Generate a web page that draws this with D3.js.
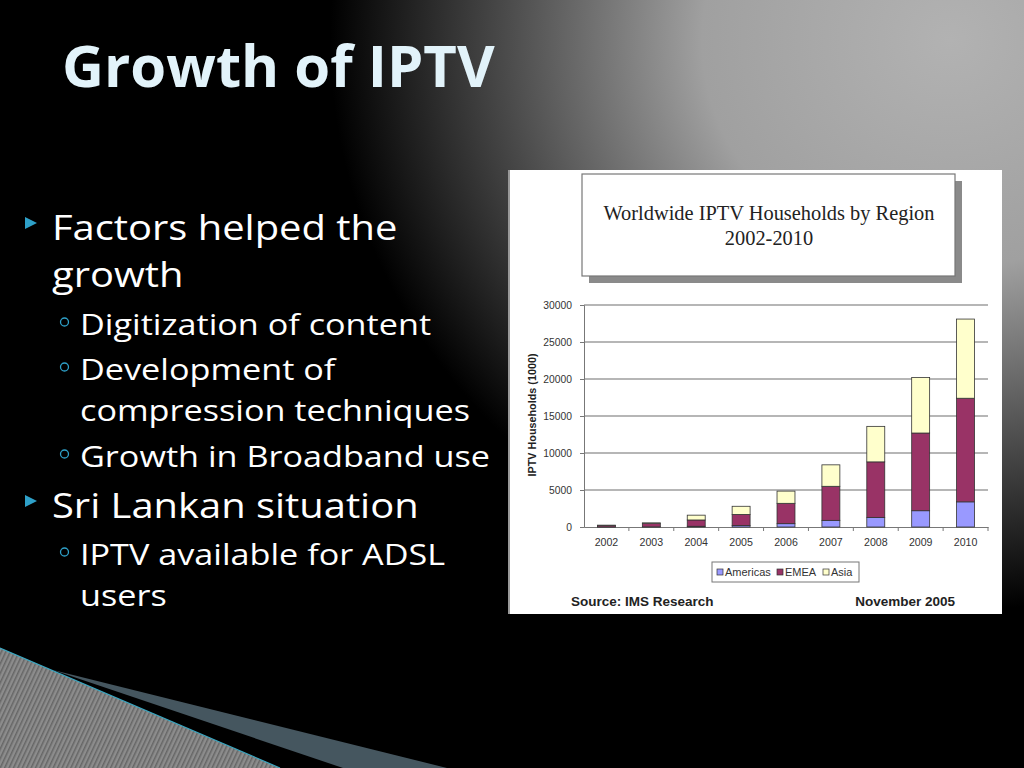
<!DOCTYPE html>
<html>
<head>
<meta charset="utf-8">
<script src="https://cdn.jsdelivr.net/npm/d3@7"></script>
<style>
  html, body { margin: 0; padding: 0; background: #000; }
  svg { display: block; }
</style>
</head>
<body>
<svg id="slide" width="1024" height="768"></svg>
<script>
// Chart data (thousands of households)
const years = ["2002", "2003", "2004", "2005", "2006", "2007", "2008", "2009", "2010"];
const americas = [10, 20, 100, 200, 450, 900, 1300, 2200, 3400];
const emea = [200, 480, 850, 1500, 2750, 4600, 7500, 10500, 14000];
const asia = [40, 60, 650, 1100, 1650, 2900, 4800, 7500, 10700];
const regions = ["Americas", "EMEA", "Asia"];
const regionColors = ["#9999ff", "#993366", "#ffffcc"];
const yTicks = [0, 5000, 10000, 15000, 20000, 25000, 30000];

// Slide text
const slideTitle = "Growth of IPTV";
const bullets = [
  { level: 1, lines: ["Factors helped the", "growth"], y: [240, 287] },
  { level: 2, lines: ["Digitization of content"], y: [335] },
  { level: 2, lines: ["Development of", "compression techniques"], y: [380, 421] },
  { level: 2, lines: ["Growth in Broadband use"], y: [467] },
  { level: 1, lines: ["Sri Lankan situation"], y: [518] },
  { level: 2, lines: ["IPTV available for ADSL", "users"], y: [565, 606] }
];

const svg = d3.select("#slide");
const defs = svg.append("defs");

// Background: black with grey glow at the top right
const bg = defs.append("radialGradient")
  .attr("id", "bgGlow")
  .attr("gradientUnits", "userSpaceOnUse")
  .attr("cx", 950).attr("cy", 40).attr("r", 620)
  .attr("gradientTransform", "translate(950,40) scale(1,0.92) translate(-950,-40)");
bg.append("stop").attr("offset", "0").attr("stop-color", "#b2b2b2");
bg.append("stop").attr("offset", "0.4").attr("stop-color", "#a0a0a0");
bg.append("stop").attr("offset", "0.72").attr("stop-color", "#4a4a4a");
bg.append("stop").attr("offset", "1").attr("stop-color", "#000");

svg.append("rect").attr("width", 1024).attr("height", 768).attr("fill", "#000");
svg.append("rect").attr("width", 1024).attr("height", 768).attr("fill", "url(#bgGlow)");

// Striped corner decoration
const stripes = defs.append("pattern")
  .attr("id", "stripes")
  .attr("patternUnits", "userSpaceOnUse")
  .attr("width", 4).attr("height", 4)
  .attr("patternTransform", "rotate(25)");
stripes.append("rect").attr("width", 4).attr("height", 4).attr("fill", "#8c8c8c");
stripes.append("rect").attr("width", 1.5).attr("height", 4).attr("fill", "#666");

svg.append("path")
  .attr("d", "M0,648 L280,768 L0,768 Z")
  .attr("fill", "url(#stripes)");
svg.append("line")
  .attr("x1", 0).attr("y1", 648).attr("x2", 280).attr("y2", 768)
  .attr("stroke", "#3aa6c0").attr("stroke-width", 1.2);
svg.append("path")
  .attr("d", "M53,670 L447,768 L343,768 Z")
  .attr("fill", "#45565f");

// Title
svg.append("text")
  .attr("x", 62).attr("y", 87)
  .attr("font-family", "'Open Sans', 'Noto Sans', sans-serif")
  .attr("font-weight", "bold")
  .attr("font-size", 58)
  .attr("fill", "#e2f3fa")
  .text(slideTitle);

// Bullets (the slide font is wider than Open Sans, so stretch horizontally)
const bulletColor = "#2ea0c8";
bullets.forEach((b) => {
  const textX = b.level === 1 ? 52 : 80;
  const size = b.level === 1 ? 35 : 30;
  b.lines.forEach((line, i) => {
    svg.append("text")
      .attr("transform", `translate(${textX},${b.y[i]}) scale(1.14,1)`)
      .attr("font-family", "'Open Sans', 'Noto Sans', sans-serif")
      .attr("font-size", size)
      .attr("fill", "#fff")
      .text(line);
  });
  if (b.level === 1) {
    const cy = b.y[0] - 17;
    svg.append("path")
      .attr("d", `M25,${cy - 6} L37,${cy} L25,${cy + 6} Z`)
      .attr("fill", bulletColor);
  } else {
    svg.append("circle")
      .attr("cx", 64.5).attr("cy", b.y[0] - 13)
      .attr("r", 4)
      .attr("fill", "none")
      .attr("stroke", bulletColor)
      .attr("stroke-width", 1.3);
  }
});

// ---- Chart picture ----
const chart = svg.append("g");
const sans = "'Liberation Sans', Arial, sans-serif";
chart.append("rect")
  .attr("x", 508).attr("y", 170).attr("width", 494).attr("height", 444)
  .attr("fill", "#fff");
chart.append("line")
  .attr("x1", 509).attr("y1", 170).attr("x2", 509).attr("y2", 614)
  .attr("stroke", "#777").attr("stroke-width", 1.5);

// Title box with shadow
chart.append("rect")
  .attr("x", 589).attr("y", 181).attr("width", 373).attr("height", 102)
  .attr("fill", "#8a8a8a");
chart.append("rect")
  .attr("x", 582).attr("y", 174).attr("width", 373).attr("height", 102)
  .attr("fill", "#fff").attr("stroke", "#777").attr("stroke-width", 1.2);
const chartTitle = chart.append("text")
  .attr("text-anchor", "middle")
  .attr("font-family", "'Liberation Serif', 'DejaVu Serif', serif")
  .attr("font-size", 20.4)
  .attr("fill", "#222");
chartTitle.append("tspan").attr("x", 769).attr("y", 220).text("Worldwide IPTV Households by Region");
chartTitle.append("tspan").attr("x", 769).attr("y", 245).text("2002-2010");

// Scales
const x = d3.scaleBand().domain(years).range([584, 988]).paddingInner(0.6).paddingOuter(0.3);
const y = d3.scaleLinear().domain([0, 30000]).range([527, 305]);

// Gridlines
chart.append("g")
  .selectAll("line")
  .data(yTicks.filter((t) => t > 0))
  .join("line")
  .attr("x1", 584).attr("x2", 988)
  .attr("y1", (d) => y(d)).attr("y2", (d) => y(d))
  .attr("stroke", "#6e6e6e").attr("stroke-width", 1.2);

// Y axis
const yAxis = chart.append("g")
  .attr("transform", "translate(584,0)")
  .call(d3.axisLeft(y).tickValues(yTicks).tickSize(4).tickPadding(8).tickFormat(d3.format("d")));
yAxis.select(".domain").attr("stroke", "#777");
yAxis.selectAll(".tick line").attr("stroke", "#777");
yAxis.selectAll("text")
  .attr("font-family", sans)
  .attr("font-size", 10.3)
  .attr("fill", "#333");

// X axis with ticks between categories
const xAxis = chart.append("g")
  .attr("transform", "translate(0,527)")
  .call(d3.axisBottom(x).tickSize(0).tickPadding(11));
xAxis.select(".domain").attr("stroke", "#777");
xAxis.selectAll("text")
  .attr("font-family", sans)
  .attr("font-size", 10.6)
  .attr("fill", "#333");
const step = x.step();
chart.append("g")
  .selectAll("line")
  .data(years)
  .join("line")
  .attr("x1", (d) => x(d) + x.bandwidth() / 2 + step / 2)
  .attr("x2", (d) => x(d) + x.bandwidth() / 2 + step / 2)
  .attr("y1", 527).attr("y2", 531)
  .attr("stroke", "#777");

// Y axis title
chart.append("text")
  .attr("transform", "translate(536,415) rotate(-90)")
  .attr("text-anchor", "middle")
  .attr("font-family", sans)
  .attr("font-weight", "bold")
  .attr("font-size", 10.8)
  .attr("fill", "#222")
  .text("IPTV Households (1000)");

// Stacked bars
const rows = years.map((yr, i) => ({ year: yr, Americas: americas[i], EMEA: emea[i], Asia: asia[i] }));
const stacked = d3.stack().keys(regions)(rows);
const color = d3.scaleOrdinal().domain(regions).range(regionColors);

chart.append("g")
  .selectAll("g")
  .data(stacked)
  .join("g")
  .attr("fill", (d) => color(d.key))
  .selectAll("rect")
  .data((d) => d)
  .join("rect")
  .attr("x", (d) => x(d.data.year))
  .attr("y", (d) => y(d[1]))
  .attr("width", x.bandwidth())
  .attr("height", (d) => y(d[0]) - y(d[1]))
  .attr("stroke", "#333")
  .attr("stroke-width", 0.8);

// Legend
chart.append("rect")
  .attr("x", 712).attr("y", 562).attr("width", 147).attr("height", 20)
  .attr("fill", "#fff").attr("stroke", "#777").attr("stroke-width", 1);
const legendX = [717, 777, 823];
const legend = chart.append("g")
  .selectAll("g")
  .data(regions)
  .join("g")
  .attr("transform", (d, i) => `translate(${legendX[i]},572)`);
legend.append("rect")
  .attr("x", 0).attr("y", -3).attr("width", 6).attr("height", 6)
  .attr("fill", (d) => color(d)).attr("stroke", "#333").attr("stroke-width", 0.7);
legend.append("text")
  .attr("x", 8).attr("y", 4)
  .attr("font-family", sans)
  .attr("font-size", 11)
  .attr("fill", "#333")
  .text((d) => d);

// Source line
chart.append("text")
  .attr("x", 571).attr("y", 606)
  .attr("font-family", sans)
  .attr("font-weight", "bold").attr("font-size", 13.5)
  .attr("fill", "#222")
  .text("Source: IMS Research");
chart.append("text")
  .attr("x", 955).attr("y", 606)
  .attr("text-anchor", "end")
  .attr("font-family", sans)
  .attr("font-weight", "bold").attr("font-size", 13.5)
  .attr("fill", "#222")
  .text("November 2005");
</script>
</body>
</html>
